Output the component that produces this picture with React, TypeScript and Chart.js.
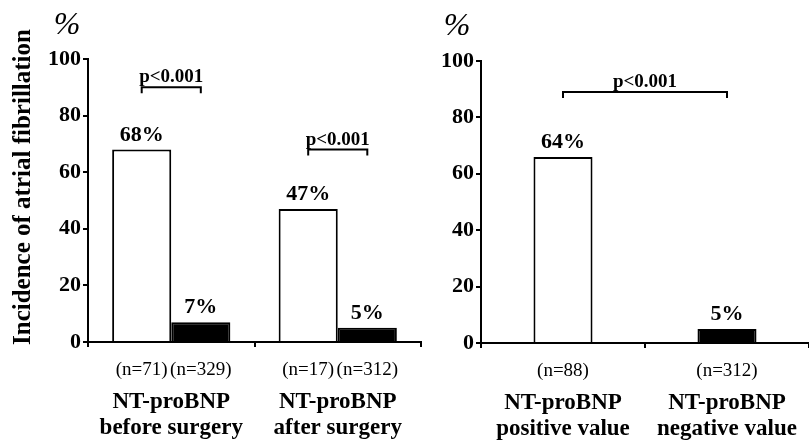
import React, { useEffect, useRef } from 'react';
import { Chart, registerables } from 'chart.js';

Chart.register(...registerables);

const FONT = '"Liberation Serif", "Times New Roman", serif';

// ---------- data ----------
const leftCategories = [
  ['NT-proBNP', 'before surgery'],
  ['NT-proBNP', 'after surgery'],
];
const leftHighValues = [68, 47];
const leftLowValues = [7, 5];
const leftHighLabels = ['68%', '47%'];
const leftLowLabels = ['7%', '5%'];
const leftHighN = ['(n=71)', '(n=17)'];
const leftLowN = ['(n=329)', '(n=312)'];
const leftPLevels = [90, 68];
const leftPTexts = ['p<0.001', 'p<0.001'];

const rightCategories = [
  ['NT-proBNP', 'positive value'],
  ['NT-proBNP', 'negative value'],
];
const rightValues = [66, 5];
const rightLabels = ['64%', '5%'];
const rightN = ['(n=88)', '(n=312)'];
const rightPLevels = [89];
const rightPTexts = ['p<0.001'];

const yMin = 0;
const yMax = 100;
const yStep = 20;
const yTitle = 'Incidence of atrial fibrillation';
const unitLabel = '%';

// ---------- helpers ----------
function drawBracket(ctx: CanvasRenderingContext2D, x1: number, x2: number, y: number, text: string) {
  ctx.lineWidth = 2;
  ctx.strokeStyle = '#000';
  ctx.beginPath();
  ctx.moveTo(x1, y + 6);
  ctx.lineTo(x1, y);
  ctx.lineTo(x2, y);
  ctx.lineTo(x2, y + 6);
  ctx.stroke();
  ctx.font = `bold 19px ${FONT}`;
  ctx.textAlign = 'center';
  ctx.textBaseline = 'alphabetic';
  ctx.fillText(text, (x1 + x2) / 2, y - 5);
}

function drawValueLabels(ctx: CanvasRenderingContext2D, bars: any[], labels: string[]) {
  ctx.font = `bold 22px ${FONT}`;
  ctx.textAlign = 'center';
  ctx.textBaseline = 'alphabetic';
  bars.forEach((b, i) => ctx.fillText(labels[i], b.x, b.y - 9));
}

function drawNLabels(ctx: CanvasRenderingContext2D, bars: any[], labels: string[], y: number) {
  ctx.font = `19px ${FONT}`;
  ctx.textAlign = 'center';
  ctx.textBaseline = 'middle';
  bars.forEach((b, i) => ctx.fillText(labels[i], b.x, y));
}

function drawUnit(ctx: CanvasRenderingContext2D, x: number, y: number) {
  ctx.font = `italic 32px ${FONT}`;
  ctx.textAlign = 'center';
  ctx.textBaseline = 'middle';
  ctx.fillText(unitLabel, x, y);
}

function baseScales(yWidth: number, xHeight: number, categories: string[][]) {
  return {
    x: {
      type: 'category' as const,
      labels: categories as any,
      offset: true,
      afterFit: (s: any) => {
        s.height = xHeight;
        s.paddingLeft = 0;
        s.paddingRight = 0;
      },
      grid: {
        display: true,
        offset: true,
        drawOnChartArea: false,
        drawTicks: true,
        tickLength: 5,
        color: '#000',
        lineWidth: 2,
      },
      border: { display: true, color: '#000', width: 2 },
      ticks: {
        color: '#000',
        font: { family: FONT, size: 23, weight: 'bold' as const, lineHeight: 1.13 },
        padding: 42,
        autoSkip: false,
        maxRotation: 0,
        minRotation: 0,
      },
    },
    y: {
      min: yMin,
      max: yMax,
      afterFit: (s: any) => {
        s.width = yWidth;
      },
      grid: {
        display: true,
        drawOnChartArea: false,
        drawTicks: true,
        tickLength: 5,
        color: '#000',
        lineWidth: 2,
      },
      border: { display: true, color: '#000', width: 2 },
      ticks: {
        stepSize: yStep,
        color: '#000',
        padding: 2,
        font: { family: FONT, size: 22, weight: 'bold' as const },
      },
    },
  };
}

export default function App() {
  const leftRef = useRef<HTMLCanvasElement>(null);
  const rightRef = useRef<HTMLCanvasElement>(null);

  useEffect(() => {
    const leftPlugin = {
      id: 'leftOverlay',
      afterDraw(chart: any) {
        const ctx: CanvasRenderingContext2D = chart.ctx;
        const yS = chart.scales.y;
        const xS = chart.scales.x;
        const hi = chart.getDatasetMeta(0).data;
        const lo = chart.getDatasetMeta(1).data;
        ctx.save();
        ctx.fillStyle = '#000';
        drawValueLabels(ctx, hi, leftHighLabels);
        drawValueLabels(ctx, lo, leftLowLabels);
        drawNLabels(ctx, hi, leftHighN, xS.top + 28);
        drawNLabels(ctx, lo, leftLowN, xS.top + 28);
        leftPLevels.forEach((lvl, i) => {
          drawBracket(ctx, hi[i].x, lo[i].x, yS.getPixelForValue(lvl), leftPTexts[i]);
        });
        // y-axis title
        ctx.save();
        ctx.translate(30, 187);
        ctx.rotate(-Math.PI / 2);
        ctx.font = `bold 25px ${FONT}`;
        ctx.textAlign = 'center';
        ctx.textBaseline = 'alphabetic';
        ctx.fillText(yTitle, 0, 0);
        ctx.restore();
        drawUnit(ctx, 67, 26);
        ctx.restore();
      },
    };

    const rightPlugin = {
      id: 'rightOverlay',
      afterDraw(chart: any) {
        const ctx: CanvasRenderingContext2D = chart.ctx;
        const yS = chart.scales.y;
        const xS = chart.scales.x;
        const bars = chart.getDatasetMeta(0).data;
        ctx.save();
        ctx.fillStyle = '#000';
        drawValueLabels(ctx, bars, rightLabels);
        drawNLabels(ctx, bars, rightN, xS.top + 28);
        rightPLevels.forEach((lvl, i) => {
          drawBracket(ctx, bars[0].x, bars[1].x, yS.getPixelForValue(lvl), rightPTexts[i]);
        });
        drawUnit(ctx, 27, 27);
        ctx.restore();
      },
    };

    const left = new Chart(leftRef.current!, {
      type: 'bar',
      data: {
        labels: leftCategories as any,
        datasets: [
          {
            label: 'High NT-proBNP',
            data: leftHighValues,
            backgroundColor: '#ffffff',
            borderColor: '#000000',
            borderWidth: 2,
          },
          {
            label: 'Low NT-proBNP',
            data: leftLowValues,
            backgroundColor: '#000000',
            borderColor: '#000000',
            borderWidth: 2,
          },
        ],
      },
      options: {
        responsive: false,
        animation: false,
        devicePixelRatio: 1,
        categoryPercentage: 0.71,
        barPercentage: 1.0,
        layout: { padding: { top: 59, right: 9, left: 0, bottom: 0 } },
        plugins: { legend: { display: false }, tooltip: { enabled: false }, title: { display: false } },
        scales: baseScales(88, 100, leftCategories) as any,
      } as any,
      plugins: [leftPlugin],
    });

    const right = new Chart(rightRef.current!, {
      type: 'bar',
      data: {
        labels: rightCategories as any,
        datasets: [
          {
            label: 'NT-proBNP',
            data: rightValues,
            backgroundColor: ['#ffffff', '#000000'],
            borderColor: '#000000',
            borderWidth: 2,
          },
        ],
      },
      options: {
        responsive: false,
        animation: false,
        devicePixelRatio: 1,
        categoryPercentage: 1.0,
        barPercentage: 0.36,
        layout: { padding: { top: 61, right: 0, left: 0, bottom: 0 } },
        plugins: { legend: { display: false }, tooltip: { enabled: false }, title: { display: false } },
        scales: baseScales(51, 99, rightCategories) as any,
      } as any,
      plugins: [rightPlugin],
    });

    return () => {
      left.destroy();
      right.destroy();
    };
  }, []);

  return (
    <div style={{ position: 'absolute', left: 0, top: 0, width: 809, height: 442, background: '#fff', overflow: 'hidden' }}>
      <canvas ref={leftRef} width={430} height={442} style={{ position: 'absolute', left: 0, top: 0, display: 'block' }} />
      <canvas ref={rightRef} width={379} height={442} style={{ position: 'absolute', left: 430, top: 0, display: 'block' }} />
    </div>
  );
}
